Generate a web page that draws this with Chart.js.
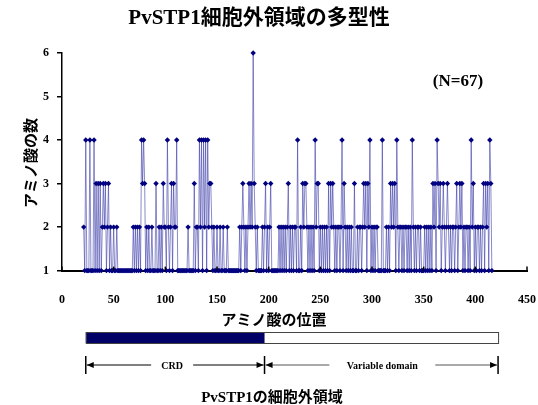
<!DOCTYPE html>
<html>
<head>
<meta charset="utf-8">
<script src="https://cdn.jsdelivr.net/npm/chart.js@4.4.1/dist/chart.umd.min.js"></script>
<style>
  html, body { margin: 0; padding: 0; background: #fff; }
  #wrap { width: 538px; height: 405px; }
</style>
</head>
<body>
<div id="wrap"><canvas id="polyChart" width="538" height="405"></canvas></div>
<script>
// ===== DATA =====
const chartTitle = "PvSTP1細胞外領域の多型性";
const sampleLabel = "(N=67)";
const xTitle = "アミノ酸の位置";
const yTitle = "アミノ酸の数";
const domainTitle = "PvSTP1の細胞外領域";

// first residue plotted, then number of amino acids seen at each residue
const firstResidue = 21;
const aaCounts = [
  2,1,4,1,1,1,4,1,1,1,   // 21-30
  4,1,3,1,3,1,3,1,2,3,   // 31-40
  2,3,1,2,3,1,2,1,1,2,   // 41-50
  1,1,2,1,1,1,1,1,1,1,   // 51-60
  1,1,1,1,1,1,1,1,2,1,   // 61-70
  2,1,2,1,2,1,4,3,4,3,   // 71-80
  1,2,1,2,1,1,2,1,1,1,   // 81-90
  3,1,1,2,1,2,1,3,2,2,   // 91-100
  1,4,2,1,2,3,1,3,2,2,   // 101-110
  4,1,1,1,1,1,1,1,1,1,   // 111-120
  1,2,1,1,1,1,1,3,1,2,   // 121-130
  2,1,4,2,4,1,4,2,4,1,   // 131-140
  4,2,3,3,2,1,2,1,1,2,   // 141-150
  1,1,2,1,1,2,1,1,1,2,   // 151-160
  1,1,1,1,1,1,1,1,1,1,   // 161-170
  1,2,1,2,3,2,1,2,1,2,   // 171-180
  3,2,3,2,6,3,2,1,2,1,   // 181-190
  1,1,1,2,1,2,3,1,2,1,   // 191-200
  2,3,1,1,1,1,1,1,1,2,   // 201-210
  1,2,1,2,1,2,1,2,3,1,   // 211-220
  2,1,2,1,2,2,1,4,1,1,   // 221-230
  2,1,3,2,3,3,2,1,2,1,   // 231-240
  2,1,2,1,4,2,3,3,1,2,   // 241-250
  1,2,1,2,1,2,1,3,1,3,   // 251-260
  2,3,2,1,2,1,2,2,1,2,   // 261-270
  4,1,3,2,1,2,1,2,1,2,   // 271-280
  1,1,3,1,1,2,1,2,2,1,   // 281-290
  2,3,2,3,1,3,2,4,1,2,   // 291-300
  1,2,1,2,2,1,1,1,1,4,   // 301-310
  1,1,1,2,1,2,1,3,2,3,   // 311-320
  2,3,1,4,2,1,2,2,1,2,   // 321-330
  1,2,2,1,2,1,2,1,4,2,   // 331-340
  1,2,1,2,2,1,2,1,1,1,   // 341-350
  2,1,2,1,2,1,2,1,3,2,   // 351-360
  3,1,4,3,2,3,1,2,3,2,   // 361-370
  1,2,3,2,1,2,1,2,2,1,   // 371-380
  2,3,1,2,3,2,3,1,2,1,   // 381-390
  2,2,1,2,1,4,2,3,1,2,   // 391-400
  1,2,2,1,2,1,2,3,1,3,   // 401-410
  2,3,1,4,3,1            // 411-416
];

// domain map under the axis (residue boundaries)
const domainBounds = [23, 196, 422];
const domainNames = ["CRD", "Variable domain"];

const xTicks = [0, 50, 100, 150, 200, 250, 300, 350, 400, 450];
const yTicks = [1, 2, 3, 4, 5, 6];

// ===== CHART =====
const serifBold = { family: "'Liberation Serif', 'Noto Sans CJK JP', serif", size: 12, weight: "bold" };
const jpFont = "'Liberation Serif', 'Noto Sans CJK JP', sans-serif";

function drawArrow(ctx, x1, x2, y, headAt) {
    ctx.beginPath();
    ctx.moveTo(x1, y);
    ctx.lineTo(x2, y);
    ctx.stroke();
    const hx = headAt === "left" ? x1 : x2;
    const d = headAt === "left" ? 1 : -1;
    ctx.beginPath();
    ctx.moveTo(hx, y);
    ctx.lineTo(hx + d * 7, y - 3);
    ctx.lineTo(hx + d * 7, y + 3);
    ctx.closePath();
    ctx.fill();
}

const decorPlugin = {
    id: "decor",
    afterDraw(chart) {
        const ctx = chart.ctx;
        const xs = chart.scales.x;
        const area = chart.chartArea;
        ctx.save();

        // inward x ticks
        ctx.strokeStyle = "#000";
        ctx.lineWidth = 1.5;
        xTicks.forEach(v => {
            const px = xs.getPixelForValue(v);
            ctx.beginPath();
            ctx.moveTo(px, area.bottom);
            ctx.lineTo(px, area.bottom - 4);
            ctx.stroke();
        });

        ctx.fillStyle = "#000";
        ctx.textAlign = "center";
        ctx.textBaseline = "middle";

        // title
        ctx.font = "bold 21px " + jpFont;
        ctx.fillText(chartTitle, 259, 19);

        // N label
        ctx.font = "bold 17px " + jpFont;
        ctx.fillText(sampleLabel, 458, 82);

        // axis titles
        ctx.font = "bold 15px 'Noto Sans CJK JP', sans-serif";
        ctx.fillText(xTitle, 274, 319);
        ctx.save();
        ctx.translate(30, 163);
        ctx.rotate(-Math.PI / 2);
        ctx.fillText(yTitle, 0, 0);
        ctx.restore();

        // domain bar
        const b0 = xs.getPixelForValue(domainBounds[0]);
        const b1 = xs.getPixelForValue(domainBounds[1]);
        const b2 = xs.getPixelForValue(domainBounds[2]);
        ctx.fillStyle = "#000066";
        ctx.fillRect(b0, 332, b1 - b0, 11);
        ctx.strokeStyle = "#444";
        ctx.lineWidth = 1;
        ctx.strokeRect(b0 + 0.5, 332.5, b2 - b0, 11);

        // range arrows
        const ay = 365;
        ctx.strokeStyle = "#000";
        ctx.fillStyle = "#000";
        ctx.lineWidth = 1.5;
        [b0, b1, b2].forEach(px => {
            ctx.beginPath();
            ctx.moveTo(px, ay - 9);
            ctx.lineTo(px, ay + 9);
            ctx.stroke();
        });
        ctx.lineWidth = 1;
        ctx.font = "bold 10px 'Liberation Serif', serif";
        const crdMid = (b0 + b1) / 2;
        drawArrow(ctx, b0 + 1, crdMid - 24, ay, "left");
        drawArrow(ctx, crdMid + 18, b1 - 1, ay, "right");
        ctx.fillText(domainNames[0], crdMid - 3, ay + 1);
        const varMid = (b1 + b2) / 2;
        ctx.strokeStyle = "#555";
        ctx.fillStyle = "#000";
        drawArrow(ctx, b1 + 1, varMid - 52, ay, "left");
        drawArrow(ctx, varMid + 54, b2 - 1, ay, "right");
        ctx.fillText(domainNames[1], varMid + 1, ay + 1);

        // bottom caption
        ctx.font = "bold 15px " + jpFont;
        ctx.fillText(domainTitle, 272, 398);

        ctx.restore();
    }
};

const ctx = document.getElementById("polyChart").getContext("2d");
const polyChart = new Chart(ctx, {
    type: "line",
    data: {
        datasets: [{
            data: aaCounts.map((v, i) => ({ x: firstResidue + i, y: v })),
            borderColor: "rgba(60, 60, 170, 0.6)",
            borderWidth: 1,
            pointStyle: "rectRot",
            pointRadius: 2.7,
            pointBorderWidth: 0,
            pointBackgroundColor: "#000080",
            tension: 0,
            clip: false
        }]
    },
    options: {
        responsive: false,
        animation: false,
        devicePixelRatio: 1,
        layout: { padding: { left: 35, right: 11, top: 53, bottom: 84 } },
        plugins: {
            legend: { display: false },
            tooltip: { enabled: false },
            title: { display: false }
        },
        scales: {
            x: {
                type: "linear",
                min: 0,
                max: 450,
                afterBuildTicks: s => { s.ticks = xTicks.map(v => ({ value: v })); },
                afterFit: s => { s.paddingRight = 0; s.paddingLeft = 0; },
                border: { color: "#000", width: 2 },
                grid: { display: false },
                ticks: { color: "#000", font: serifBold, padding: 14, maxRotation: 0 }
            },
            y: {
                min: 1,
                max: 6,
                afterBuildTicks: s => { s.ticks = yTicks.map(v => ({ value: v })); },
                border: { color: "#000", width: 1.5 },
                grid: { drawOnChartArea: false, drawTicks: true, tickLength: 5, color: "#000", lineWidth: 1.5 },
                ticks: { color: "#000", font: serifBold, padding: 8 }
            }
        }
    },
    plugins: [decorPlugin]
});
</script>
</body>
</html>
